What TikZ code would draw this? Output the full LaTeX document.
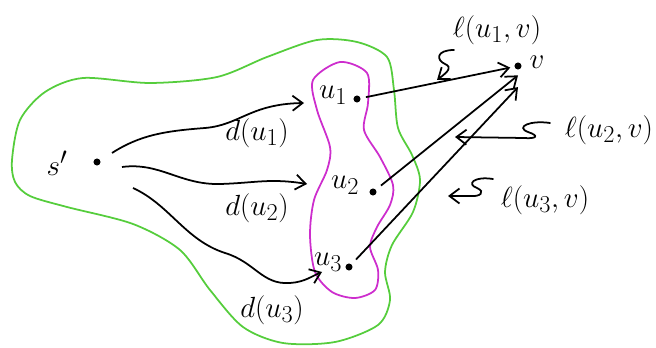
\documentclass[tikz,border=0pt]{standalone}
\usepackage{amsmath,amssymb}
\usepackage{tikz}
\usetikzlibrary{arrows.meta}
\definecolor{setgreen}{RGB}{85,205,60}
\definecolor{setpink}{RGB}{205,45,205}

\begin{document}
\begin{tikzpicture}[x=0.03cm, y=-0.03cm, line width=1.5pt, every node/.style={font=\Huge}, >={Straight Barb[length=3mm,width=4.5mm]}, dot/.style={circle, fill, inner sep=0pt, minimum size=6pt}]
	\useasboundingbox (0,0) rectangle (656,348);
	% the two sets
	\draw[setgreen] plot[smooth cycle] coordinates {(12,160) (20,120) (45,92) (83,78) (150,83) (217,77) (267,57) (317,40) (357,42) (387,57) (394,90) (398,128) (412,155) (420,180) (413,212) (392,245) (385,272) (390,300) (378,325) (335,342) (283,343) (243,327) (210,290) (180,250) (133,224) (67,207) (30,196) (15,182)};
	\draw[setpink] plot[smooth cycle] coordinates {(340,62) (367,73) (368,103) (364,130) (380,157) (393,185) (390,205) (377,227) (370,247) (378,270) (375,290) (355,298) (332,292) (315,272) (310,235) (314,200) (327,170) (330,147) (317,110) (313,80)};
	% points
	\node[dot] (s) at (97,162) {};
	\node[dot] (u1) at (357,99) {};
	\node[dot] (u2) at (373,192) {};
	\node[dot] (u3) at (349,267) {};
	\node[dot] (v) at (518,66) {};
	\node (slab) at (57,163) {$s'$};
	\node (u1lab) at (333,95) {$u_1$};
	\node (u2lab) at (345,185) {$u_2$};
	\node (u3lab) at (328,262) {$u_3$};
	\node (vlab) at (537,62) {$v$};
	% paths from s'
	\draw[->] ([shift={(15,-9)}]s.center) .. controls (140,135) and (165,131) .. (205,128) .. controls (240,125) and (250,104) .. (304,103);
	\draw[->] ([shift={(25,5)}]s.center) .. controls (160,162) and (180,185) .. (220,184) .. controls (255,183) and (270,178) .. (307,184);
	\draw[->] ([shift={(36,26)}]s.center) .. controls (170,205) and (185,240) .. (225,253) .. controls (255,262) and (262,285) .. (290,283) .. controls (305,282) and (312,276) .. (322,272);
	\node (d1) at (257,133) {$d(u_1)$};
	\node (d2) at (257,208) {$d(u_2)$};
	\node (d3) at (272,310) {$d(u_3)$};
	% edges into v
	\draw[->, shorten <=4pt, shorten >=3pt] (u1) -- (v);
	\draw[->, shorten <=5pt] (u2) -- ([yshift=-8pt]v.center);
	\draw[->, shorten <=5pt] (u3) -- ([yshift=-18pt]v.center);
	\node (l1) at (497,30) {$\ell(u_1,v)$};
	\node[anchor=west] (l2) at (560,130) {$\ell(u_2,v)$};
	\node (l3) at (545,200) {$\ell(u_3,v)$};
	\coordinate (t1) at (454,50);
	\coordinate (t2) at (550,123);
	\coordinate (t3) at (493,179);
	\draw[->, line cap=round] (t1) .. controls (436,50) and (436,60) .. (445,64) .. controls (452,67) and (449,71) .. (437,80);
	\draw[->, line cap=round] (t2) .. controls (530,120) and (515,127) .. (528,132) .. controls (540,136) and (536,139) .. (524,138) -- (455,137);
	\draw[->, line cap=round] (t3) .. controls (474,176) and (466,184) .. (477,188) .. controls (486,192) and (480,197) .. (470,196) -- (448,196);
\end{tikzpicture}
\end{document}
